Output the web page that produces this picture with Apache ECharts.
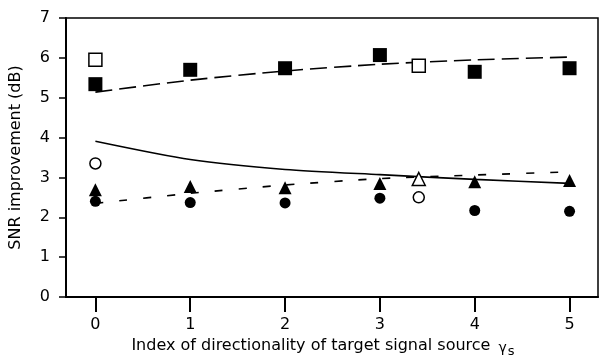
<!DOCTYPE html>
<html>
<head>
<meta charset="utf-8">
<script src="https://cdn.jsdelivr.net/npm/echarts@6/dist/echarts.min.js"></script>
<style>
html,body{margin:0;padding:0;background:#fff;}
#chart{width:600px;height:358px;}
</style>
</head>
<body>
<div id="chart"></div>
<script>
// ---- data ----
const xTicks = [0, 1, 2, 3, 4, 5];
const yTicks = [0, 1, 2, 3, 4, 5, 6, 7];

const filledSquares = [5.34, 5.70, 5.74, 6.07, 5.65, 5.74];
const openSquaresX = [0, 3.41];
const openSquaresY = [5.95, 5.80];

const filledTriangles = [2.69, 2.77, 2.74, 2.85, 2.89, 2.92];
const openTrianglesX = [3.41];
const openTrianglesY = [2.96];

const filledCircles = [2.40, 2.37, 2.36, 2.48, 2.17, 2.15];
const openCirclesX = [0, 3.41];
const openCirclesY = [3.35, 2.50];

const longDashFit = [5.14, 5.44, 5.67, 5.84, 5.95, 6.02];
const solidFit = [3.91, 3.45, 3.20, 3.07, 2.95, 2.85];
const shortDashFit = [2.35, 2.60, 2.81, 2.97, 3.06, 3.14];

// ---- build ----
const pairs = (xs, ys) => xs.map((x, i) => [x, ys[i]]);
const FONT = 'DejaVu Sans';

function lineSeries(vals, type, dash) {
  return {
    type: 'line', data: pairs(xTicks, vals), symbol: 'none', smooth: 0.25,
    lineStyle: {color: '#000', width: 1.6, type: dash || type},
    z: 2, silent: true
  };
}
function scatter(data, symbol, size, filled) {
  return {
    type: 'scatter', data: data, symbol: symbol, symbolSize: size, z: 5,
    itemStyle: filled ? {color: '#000', opacity: 1} : {color: '#fff', borderColor: '#000', borderWidth: 1.5, opacity: 1}
  };
}

const chart = echarts.init(document.getElementById('chart'), null, {renderer: 'canvas'});
chart.setOption({
  animation: false,
  grid: {left: 66, right: 2, top: 18, bottom: 61, show: true, borderColor: '#000', borderWidth: 1.5,
         containLabel: false, outerBoundsMode: 'none'},
  xAxis: {
    type: 'value', min: -0.31, max: 5.3,
    axisLine: {show: true, onZero: false, lineStyle: {color: '#000', width: 2}},
    axisTick: {show: true, customValues: xTicks, length: 15, lineStyle: {color: '#000', width: 2}},
    axisLabel: {customValues: xTicks, margin: 20, color: '#000', fontFamily: FONT, fontSize: 16},
    splitLine: {show: false},
    name: 'Index of directionality of target signal source {g|γ}{s|s}',
    nameLocation: 'middle', nameGap: 35,
    nameTextStyle: {
      color: '#000', fontFamily: FONT, fontSize: 16, padding: [0, 18, 0, 0],
      rich: {
        g: {fontFamily: FONT, fontSize: 14, color: '#000', padding: [4, 0, 0, 3]},
        s: {fontFamily: FONT, fontSize: 13, color: '#000', padding: [12, 0, 0, 1]}
      }
    }
  },
  yAxis: {
    type: 'value', min: 0, max: 7, interval: 1,
    axisLine: {show: true, onZero: false, lineStyle: {color: '#000', width: 2}},
    axisTick: {show: true, length: 7, lineStyle: {color: '#000', width: 1.5}},
    axisLabel: {margin: 16, color: '#000', fontFamily: FONT, fontSize: 16},
    splitLine: {show: false},
    name: 'SNR improvement (dB)', nameLocation: 'middle', nameGap: 42,
    nameTextStyle: {color: '#000', fontFamily: FONT, fontSize: 16}
  },
  series: [
    lineSeries(longDashFit, 'dashed', [17, 7]),
    lineSeries(solidFit, 'solid'),
    lineSeries(shortDashFit, 'dashed', [8, 16]),
    scatter(pairs(xTicks, filledSquares), 'rect', 14, true),
    scatter(pairs(openSquaresX, openSquaresY), 'rect', 13, false),
    scatter(pairs(xTicks, filledCircles), 'circle', 11, true),
    scatter(pairs(openCirclesX, openCirclesY), 'circle', 11, false),
    scatter(pairs(xTicks, filledTriangles), 'triangle', 13, true),
    scatter(pairs(openTrianglesX, openTrianglesY), 'triangle', 13, false)
  ]
});
</script>
</body>
</html>
